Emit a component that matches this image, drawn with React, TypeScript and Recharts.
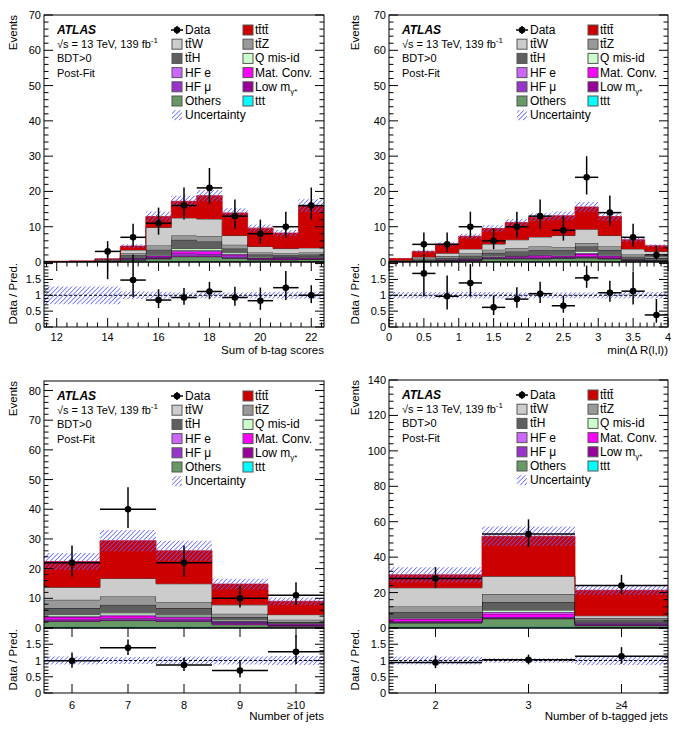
import React from "react";
import { Area, ComposedChart, ErrorBar, ReferenceLine, Scatter, XAxis, YAxis } from "recharts";

const FONT = "'Liberation Sans', Arial, Helvetica, sans-serif";
const HATCH = "#5f5fff";

// stack order, bottom to top
const STACK = ["ttt", "others", "lowm", "hfmu", "matconv", "hfe", "qmis", "ttH", "ttZ", "ttW", "tttt"];
const COLORS: Record<string, string> = {
  ttt: "#00ffff",
  others: "#669966",
  lowm: "#990099",
  hfmu: "#9933cc",
  matconv: "#ff00ff",
  hfe: "#cc66ff",
  qmis: "#ccffcc",
  ttH: "#5f5f5f",
  ttZ: "#999999",
  ttW: "#cccccc",
  tttt: "#cc0000",
};

// ---- Sum of b-tag scores ----
const btagEdges = [11.5, 12.5, 13.5, 14.5, 15.5, 16.5, 17.5, 18.5, 19.5, 20.5, 21.5, 22.5];
const btagTicks = [12, 14, 16, 18, 20, 22];
const btagData = [null, null, 3, 7, 11, 16, 21, 13, 8, 10, 16];
const btagErrLo = [0, 0, 1.63, 2.58, 3.27, 3.96, 4.55, 3.58, 2.77, 3.11, 3.96];
const btagErrHi = [0, 0, 2.92, 3.83, 4.42, 5.1, 5.65, 4.71, 4.0, 4.26, 5.1];
const btagRatio = [null, null, 3.3, 1.48, 0.85, 0.93, 1.12, 0.93, 0.83, 1.24, 1.0];
const btagTttt = [0.05, 0.1, 0.2, 1.1, 3.1, 4.7, 6.6, 6.4, 5.2, 4.4, 12.0];
const btagTtW = [0.05, 0.05, 0.2, 0.9, 5.1, 5.0, 4.8, 2.6, 1.7, 1.3, 1.3];
const btagTtZ = [0, 0.05, 0.1, 0.6, 1.2, 1.2, 1.6, 1.1, 0.6, 0.6, 0.6];
const btagTtH = [0.08, 0.07, 0.15, 0.55, 1.3, 2.5, 2.0, 1.05, 0.7, 0.3, 0.55];
const btagQmis = [0, 0, 0.05, 0.2, 0.3, 0.5, 0.5, 0.4, 0.2, 0.2, 0.2];
const btagHfe = [0, 0, 0, 0.1, 0.2, 0.3, 0.3, 0.2, 0.1, 0.1, 0.1];
const btagMatConv = [0, 0, 0.05, 0.2, 0.3, 0.6, 0.7, 0.3, 0.2, 0.2, 0.2];
const btagHfmu = [0, 0, 0.05, 0.2, 0.3, 0.6, 0.5, 0.6, 0.2, 0.2, 0.2];
const btagLowm = [0, 0, 0, 0.1, 0.2, 0.3, 0.3, 0.2, 0.1, 0.3, 0.1];
const btagOthers = [0.02, 0.03, 0.1, 0.5, 0.8, 1.3, 1.3, 0.9, 0.5, 0.5, 0.6];
const btagTtt = [0, 0, 0, 0.05, 0.1, 0.2, 0.2, 0.15, 0.1, 0.1, 0.15];
const btagUnc = [0.06, 0.08, 0.25, 0.5, 1.4, 1.6, 1.6, 1.3, 1.0, 0.9, 1.8];
const btagRatioUnc = [0.28, 0.28, 0.28, 0.12, 0.11, 0.09, 0.09, 0.09, 0.1, 0.11, 0.11];

// ---- min(dR(l,l)) ----
const drEdges = [0, 0.333, 0.667, 1, 1.333, 1.667, 2, 2.333, 2.667, 3, 3.333, 3.667, 4];
const drTicks = [0, 0.5, 1, 1.5, 2, 2.5, 3, 3.5, 4];
const drData = [null, 5, 5, 10, 6, 10, 13, 9, 24, 14, 7, 2];
const drErrLo = [0, 2.16, 2.16, 3.11, 2.38, 3.11, 3.58, 2.94, 4.87, 3.72, 2.58, 1.29];
const drErrHi = [0, 3.38, 3.38, 4.26, 3.62, 4.26, 4.71, 4.14, 5.97, 4.86, 3.83, 2.64];
const drRatio = [null, 1.69, 0.97, 1.39, 0.62, 0.88, 1.05, 0.67, 1.55, 1.08, 1.13, 0.38];
const drTttt = [0.5, 1.6, 2.6, 3.6, 4.4, 4.9, 5.6, 5.6, 6.3, 5.4, 2.6, 1.6];
const drTtW = [0.15, 0.4, 0.8, 1.2, 1.6, 2.3, 2.7, 3.3, 3.9, 3.1, 1.6, 1.4];
const drTtZ = [0.1, 0.3, 0.5, 0.7, 0.9, 1.0, 1.1, 0.9, 1.0, 1.0, 0.6, 0.5];
const drTtH = [0.12, 0.28, 0.52, 0.75, 0.9, 1.1, 1.1, 1.1, 1.35, 1.2, 0.65, 0.57];
const drQmis = [0.02, 0.05, 0.1, 0.15, 0.2, 0.2, 0.25, 0.3, 0.5, 0.3, 0.1, 0.05];
const drHfe = [0.02, 0.05, 0.05, 0.1, 0.15, 0.15, 0.2, 0.2, 0.3, 0.2, 0.05, 0.05];
const drMatConv = [0.02, 0.05, 0.1, 0.15, 0.2, 0.3, 0.5, 0.3, 0.6, 0.4, 0.1, 0.05];
const drHfmu = [0.02, 0.05, 0.1, 0.1, 0.15, 0.2, 0.2, 0.2, 0.3, 0.2, 0.1, 0.05];
const drLowm = [0, 0.05, 0.05, 0.1, 0.1, 0.15, 0.15, 0.15, 0.2, 0.2, 0.15, 0.1];
const drOthers = [0.05, 0.15, 0.25, 0.4, 0.8, 0.8, 0.8, 0.9, 1.0, 0.8, 0.3, 0.2];
const drTtt = [0, 0.02, 0.03, 0.05, 0.1, 0.1, 0.1, 0.15, 0.15, 0.1, 0.05, 0.03];
const drUnc = [0.1, 0.35, 0.5, 0.7, 0.9, 1.0, 1.1, 1.2, 1.4, 1.2, 0.6, 0.45];
const drRatioUnc = [0.1, 0.1, 0.1, 0.1, 0.1, 0.09, 0.09, 0.09, 0.09, 0.1, 0.1, 0.1];

// ---- Number of jets ----
const jetEdges = [5.5, 6.5, 7.5, 8.5, 9.5, 10.5];
const jetTicks = [6, 7, 8, 9, 10];
const jetLabels = ["6", "7", "8", "9", "\u226510"];
const jetData = [22, 40, 22, 10, 11];
const jetErrLo = [4.66, 6.3, 4.66, 3.11, 3.27];
const jetErrHi = [5.76, 7.38, 5.76, 4.26, 4.42];
const jetRatio = [0.99, 1.39, 0.86, 0.69, 1.27];
const jetTttt = [8.7, 12.7, 11.1, 7.0, 4.5];
const jetTtW = [4.2, 6.1, 6.1, 3.0, 1.7];
const jetTtZ = [2.8, 2.8, 2.1, 1.1, 0.8];
const jetTtH = [2.2, 2.7, 2.3, 1.0, 0.2];
const jetQmis = [0.5, 0.6, 0.5, 0.3, 0.2];
const jetHfe = [0.3, 0.4, 0.3, 0.2, 0.1];
const jetMatConv = [0.8, 0.8, 0.5, 0.2, 0.2];
const jetHfmu = [0.4, 0.5, 0.6, 0.4, 0.3];
const jetLowm = [0.3, 0.3, 0.3, 0.5, 0.4];
const jetOthers = [1.9, 2.2, 1.9, 0.9, 0.5];
const jetTtt = [0.3, 0.3, 0.3, 0.2, 0.1];
const jetUnc = [2.9, 3.6, 3.4, 1.8, 1.3];
const jetRatioUnc = [0.12, 0.11, 0.12, 0.12, 0.14];

// ---- Number of b-tagged jets ----
const bjetEdges = [1.5, 2.5, 3.5, 4.5];
const bjetTicks = [2, 3, 4];
const bjetLabels = ["2", "3", "\u22654"];
const bjetData = [28, 53, 24];
const bjetErrLo = [5.26, 7.26, 4.87];
const bjetErrHi = [6.35, 8.33, 5.97];
const bjetRatio = [0.94, 1.02, 1.13];
const bjetTttt = [7.3, 22.6, 14.4];
const bjetTtW = [10.5, 10.0, 1.3];
const bjetTtZ = [3.1, 4.5, 0.9];
const bjetTtH = [3.1, 4.6, 1.5];
const bjetQmis = [0.5, 1.1, 0.3];
const bjetHfe = [0.4, 1.0, 0.3];
const bjetMatConv = [1.3, 1.8, 0.4];
const bjetHfmu = [0.6, 0.6, 0.5];
const bjetLowm = [0.4, 0.4, 0.4];
const bjetOthers = [2.3, 4.5, 1.0];
const bjetTtt = [0.5, 0.7, 0.3];
const bjetUnc = [4.3, 5.5, 2.7];
const bjetRatioUnc = [0.12, 0.07, 0.14];

type PanelCfg = {
  id: string;
  x0: number;
  plotL: number;
  plotR: number;
  mainTop: number;
  mainBottom: number;
  ratioBottom: number;
  ratioMax: number;
  edges: number[];
  data: (number | null)[];
  errLo: number[];
  errHi: number[];
  ratio: (number | null)[];
  unc: number[];
  ratioUnc: number[];
  series: Record<string, number[]>;
  yMax: number;
  yMajor: number;
  yMinor: number;
  xMajor: number[];
  xMinor: number | null;
  xLabels: string[] | null;
  labelDy: number;
  xTitle: string;
};

const panels: PanelCfg[] = [
  {
    id: "btag", x0: 0, plotL: 44, plotR: 324, mainTop: 15, mainBottom: 262, ratioBottom: 327, ratioMax: 2.05,
    edges: btagEdges, data: btagData, errLo: btagErrLo, errHi: btagErrHi, ratio: btagRatio,
    unc: btagUnc, ratioUnc: btagRatioUnc,
    series: {
      tttt: btagTttt, ttW: btagTtW, ttZ: btagTtZ, ttH: btagTtH, qmis: btagQmis, hfe: btagHfe,
      matconv: btagMatConv, hfmu: btagHfmu, lowm: btagLowm, others: btagOthers, ttt: btagTtt,
    },
    yMax: 70, yMajor: 10, yMinor: 2, xMajor: btagTicks, xMinor: 0.4, xLabels: null, labelDy: 9.5,
    xTitle: "Sum of b-tag scores",
  },
  {
    id: "dr", x0: 342, plotL: 389, plotR: 668, mainTop: 15, mainBottom: 262, ratioBottom: 327, ratioMax: 2.05,
    edges: drEdges, data: drData, errLo: drErrLo, errHi: drErrHi, ratio: drRatio,
    unc: drUnc, ratioUnc: drRatioUnc,
    series: {
      tttt: drTttt, ttW: drTtW, ttZ: drTtZ, ttH: drTtH, qmis: drQmis, hfe: drHfe,
      matconv: drMatConv, hfmu: drHfmu, lowm: drLowm, others: drOthers, ttt: drTtt,
    },
    yMax: 70, yMajor: 10, yMinor: 2, xMajor: drTicks, xMinor: 0.1, xLabels: null, labelDy: 9.5,
    xTitle: "min(\u0394 R(l,l))",
  },
  {
    id: "jet", x0: 0, plotL: 44, plotR: 324, mainTop: 381, mainBottom: 628, ratioBottom: 693, ratioMax: 2.0,
    edges: jetEdges, data: jetData, errLo: jetErrLo, errHi: jetErrHi, ratio: jetRatio,
    unc: jetUnc, ratioUnc: jetRatioUnc,
    series: {
      tttt: jetTttt, ttW: jetTtW, ttZ: jetTtZ, ttH: jetTtH, qmis: jetQmis, hfe: jetHfe,
      matconv: jetMatConv, hfmu: jetHfmu, lowm: jetLowm, others: jetOthers, ttt: jetTtt,
    },
    yMax: 83.2, yMajor: 10, yMinor: 2, xMajor: jetTicks, xMinor: null, xLabels: jetLabels, labelDy: 12,
    xTitle: "Number of jets",
  },
  {
    id: "bjet", x0: 342, plotL: 389, plotR: 668, mainTop: 380, mainBottom: 628, ratioBottom: 693, ratioMax: 2.0,
    edges: bjetEdges, data: bjetData, errLo: bjetErrLo, errHi: bjetErrHi, ratio: bjetRatio,
    unc: bjetUnc, ratioUnc: bjetRatioUnc,
    series: {
      tttt: bjetTttt, ttW: bjetTtW, ttZ: bjetTtZ, ttH: bjetTtH, qmis: bjetQmis, hfe: bjetHfe,
      matconv: bjetMatConv, hfmu: bjetHfmu, lowm: bjetLowm, others: bjetOthers, ttt: bjetTtt,
    },
    yMax: 140, yMajor: 20, yMinor: 4, xMajor: bjetTicks, xMinor: null, xLabels: bjetLabels, labelDy: 12,
    xTitle: "Number of b-tagged jets",
  },
];

const near = (a: number, b: number) => Math.abs(a - b) < 1e-6;
const r4 = (v: number) => Math.round(v * 10000) / 10000;

function tickList(lo: number, hi: number, step: number, anchor: number) {
  const out: number[] = [];
  const start = anchor - Math.floor((anchor - lo) / step + 1e-9) * step;
  for (let v = start; v <= hi + 1e-9; v += step) out.push(r4(v));
  return out;
}

function HatchDef({ id }: { id: string }) {
  return (
    <defs>
      <pattern id={id} width="3.2" height="3.2" patternUnits="userSpaceOnUse" patternTransform="rotate(45)">
        <line x1="0" y1="0" x2="0" y2="3.2" stroke={HATCH} strokeWidth="1.5" />
      </pattern>
    </defs>
  );
}

function Panel({ p }: { p: PanelCfg }) {
  const nb = p.edges.length - 1;
  const lo = p.edges[0];
  const hi = p.edges[nb];
  const hw = (p.edges[1] - p.edges[0]) / 2;

  const rows = p.edges.map((x, i) => {
    const b = Math.min(i, nb - 1);
    const row: any = { x };
    let total = 0;
    STACK.forEach((k) => {
      row[k] = p.series[k][b];
      total += p.series[k][b];
    });
    row.unc = [total - p.unc[b], total + p.unc[b]];
    row.band = [1 - p.ratioUnc[b], 1 + p.ratioUnc[b]];
    return row;
  });

  const pts: any[] = [];
  const rpts: any[] = [];
  for (let i = 0; i < nb; i++) {
    const c = (p.edges[i] + p.edges[i + 1]) / 2;
    const d = p.data[i];
    if (d != null) pts.push({ x: c, y: d, ex: hw, ey: [p.errLo[i], p.errHi[i]] });
    const r = p.ratio[i];
    if (r != null && d) rpts.push({ x: c, y: r, ex: hw, ey: [(p.errLo[i] * r) / d, (p.errHi[i] * r) / d] });
  }

  const W = p.plotR - p.x0 + 12;
  const L = p.plotL - p.x0;
  const R = p.plotR - p.x0;
  const mainH = p.mainBottom - p.mainTop + 18;
  const mTop = 10;
  const mBot = mainH - 8;
  const ratioH = p.ratioBottom - p.mainBottom + 8 + 30;
  const rTop = 8;
  const rBot = ratioH - 30;

  const xTicks = p.xMinor ? tickList(lo, hi, p.xMinor, p.xMajor[0]) : p.xMajor;
  const isXMajor = (v: number) => p.xMajor.some((m) => near(m, v));
  const xLabel = (v: number) => {
    const idx = p.xMajor.findIndex((m) => near(m, v));
    if (idx < 0) return "";
    return p.xLabels ? p.xLabels[idx] : String(v);
  };
  const yTicks = tickList(0, p.yMax, p.yMinor, 0);
  const rTicks = tickList(0, p.ratioMax, 0.1, 0);

  const xTick = (top: number, bottom: number, labels: boolean, majLen: number) => (props: any) => {
    const x = props.x;
    const v = props.payload.value;
    const maj = isXMajor(v);
    const len = maj ? majLen : majLen / 2;
    return (
      <g>
        <line x1={x} x2={x} y1={bottom} y2={bottom - len} stroke="#000" strokeWidth={1} />
        <line x1={x} x2={x} y1={top} y2={top + len} stroke="#000" strokeWidth={1} />
        {labels && maj && (
          <text x={x} y={bottom + p.labelDy} textAnchor="middle" dominantBaseline="central" fontSize={11} fontFamily={FONT} fill="#000">
            {xLabel(v)}
          </text>
        )}
      </g>
    );
  };

  const yTick = (major: number, labelFn: (v: number) => string | null) => (props: any) => {
    const y = props.y;
    const v = props.payload.value;
    const maj = near(v / major, Math.round(v / major));
    const len = maj ? 9 : 4.5;
    const lab = maj ? labelFn(v) : null;
    return (
      <g>
        <line x1={L} x2={L + len} y1={y} y2={y} stroke="#000" strokeWidth={1} />
        <line x1={R} x2={R - len} y1={y} y2={y} stroke="#000" strokeWidth={1} />
        {lab != null && (
          <text x={L - 3} y={y} textAnchor="end" dominantBaseline="central" fontSize={11} fontFamily={FONT} fill="#000">
            {lab}
          </text>
        )}
      </g>
    );
  };

  const dot = (s: any) => <circle cx={s.cx} cy={s.cy} r={3.3} fill="#000" />;

  return (
    <>
      <div style={{ position: "absolute", left: p.x0, top: p.mainTop - mTop }}>
        <ComposedChart width={W} height={mainH} data={rows} margin={{ top: mTop, right: W - R, bottom: 8, left: 0 }}>
          <HatchDef id={`hatch-${p.id}`} />
          <XAxis
            dataKey="x"
            type="number"
            domain={[lo, hi]}
            ticks={xTicks}
            interval={0}
            allowDataOverflow
            height={0}
            axisLine={false}
            tickLine={false}
            tick={xTick(mTop, mBot, false, 8)}
          />
          <YAxis
            type="number"
            domain={[0, p.yMax]}
            ticks={yTicks}
            interval={0}
            allowDataOverflow
            width={L}
            axisLine={false}
            tickLine={false}
            tick={yTick(p.yMajor, (v) => String(v))}
          />
          {STACK.map((k) => (
            <Area
              key={k}
              dataKey={k}
              stackId="s"
              type="stepAfter"
              fill={COLORS[k]}
              fillOpacity={1}
              stroke={k === "tttt" ? COLORS[k] : "#111"}
              strokeWidth={0.8}
              dot={false}
              activeDot={false}
              isAnimationActive={false}
            />
          ))}
          <Area
            dataKey="unc"
            type="stepAfter"
            fill={`url(#hatch-${p.id})`}
            fillOpacity={1}
            stroke="none"
            dot={false}
            activeDot={false}
            isAnimationActive={false}
          />
          <Scatter data={pts} dataKey="y" fill="#000" shape={dot} isAnimationActive={false}>
            <ErrorBar dataKey="ey" direction="y" width={0} stroke="#000" strokeWidth={1.5} />
            <ErrorBar dataKey="ex" direction="x" width={0} stroke="#000" strokeWidth={1.5} />
          </Scatter>
        </ComposedChart>
      </div>
      <div style={{ position: "absolute", left: p.x0, top: p.mainBottom - rTop }}>
        <ComposedChart width={W} height={ratioH} data={rows} margin={{ top: rTop, right: W - R, bottom: 0, left: 0 }}>
          <HatchDef id={`rhatch-${p.id}`} />
          <XAxis
            dataKey="x"
            type="number"
            domain={[lo, hi]}
            ticks={xTicks}
            interval={0}
            allowDataOverflow
            height={30}
            axisLine={false}
            tickLine={false}
            tick={xTick(rTop, rBot, true, 9)}
          />
          <YAxis
            type="number"
            domain={[0, p.ratioMax]}
            ticks={rTicks}
            interval={0}
            allowDataOverflow
            width={L}
            axisLine={false}
            tickLine={false}
            tick={yTick(0.5, (v) => (v > 1.9 ? null : String(v)))}
          />
          <Area
            dataKey="band"
            type="stepAfter"
            fill={`url(#rhatch-${p.id})`}
            fillOpacity={1}
            stroke="none"
            dot={false}
            activeDot={false}
            isAnimationActive={false}
          />
          <ReferenceLine y={1} stroke="#000" strokeWidth={1} strokeDasharray="3 2" />
          <Scatter data={rpts} dataKey="y" fill="#000" shape={dot} isAnimationActive={false}>
            <ErrorBar dataKey="ey" direction="y" width={0} stroke="#000" strokeWidth={1.5} />
            <ErrorBar dataKey="ex" direction="x" width={0} stroke="#000" strokeWidth={1.5} />
          </Scatter>
        </ComposedChart>
      </div>
    </>
  );
}

const TBAR = "t\u0304";
const col1 = [
  { label: "Data", kind: "data" },
  { label: "t" + TBAR + "W", kind: "ttW" },
  { label: "t" + TBAR + "H", kind: "ttH" },
  { label: "HF e", kind: "hfe" },
  { label: "HF \u03bc", kind: "hfmu" },
  { label: "Others", kind: "others" },
  { label: "Uncertainty", kind: "hatch" },
];
const col2 = [
  { label: "t" + TBAR + "t" + TBAR, kind: "tttt" },
  { label: "t" + TBAR + "Z", kind: "ttZ" },
  { label: "Q mis-id", kind: "qmis" },
  { label: "Mat. Conv.", kind: "matconv" },
  { label: "Low m", kind: "lowm" },
  { label: "ttt", kind: "ttt" },
];

function LegendMark({ kind, cx, cy }: { kind: string; cx: number; cy: number }) {
  if (kind === "data") {
    return (
      <g>
        <line x1={cx - 6} x2={cx + 6} y1={cy} y2={cy} stroke="#000" strokeWidth={1.5} />
        <line x1={cx} x2={cx} y1={cy - 4} y2={cy + 4} stroke="#000" strokeWidth={1.5} />
        <circle cx={cx} cy={cy} r={3.3} fill="#000" />
      </g>
    );
  }
  const fill = kind === "hatch" ? "url(#hatch-legend)" : COLORS[kind];
  return (
    <rect x={cx - 5} y={cy - 5} width={10} height={10} fill={fill} stroke={kind === "hatch" ? "none" : "#555"} strokeWidth={1} />
  );
}

function Overlay() {
  const txt = { fontSize: 12, fontFamily: FONT, fill: "#000", dominantBaseline: "central" as const };
  return (
    <svg width={685} height={730} style={{ position: "absolute", left: 0, top: 0, pointerEvents: "none" }}>
      <defs>
        <pattern id="hatch-legend" width="3.2" height="3.2" patternUnits="userSpaceOnUse" patternTransform="rotate(45)">
          <line x1="0" y1="0" x2="0" y2="3.2" stroke={HATCH} strokeWidth="1.5" />
        </pattern>
      </defs>
      {panels.map((p) => {
        const row = (i: number) => p.mainTop + 15 + i * 14.2;
        const L = p.plotL;
        return (
          <g key={p.id}>
            <rect x={p.plotL} y={p.mainTop} width={p.plotR - p.plotL} height={p.mainBottom - p.mainTop} fill="none" stroke="#000" strokeWidth={1} />
            <rect x={p.plotL} y={p.mainBottom} width={p.plotR - p.plotL} height={p.ratioBottom - p.mainBottom} fill="none" stroke="#000" strokeWidth={1} />
            <text transform={`translate(${p.x0 + 16.5},${p.mainTop}) rotate(-90)`} textAnchor="end" fontSize={11.5} fontFamily={FONT} fill="#000">
              Events
            </text>
            <text transform={`translate(${p.x0 + 16.5},${p.mainBottom + 1}) rotate(-90)`} textAnchor="end" fontSize={11.5} fontFamily={FONT} fill="#000">
              Data / Pred.
            </text>
            <text x={p.plotR} y={p.ratioBottom + 23} textAnchor="end" {...txt} fontSize={11.5}>
              {p.xTitle}
            </text>
            <text x={L + 13} y={row(0)} {...txt} fontWeight="bold" fontStyle="italic">
              ATLAS
            </text>
            <text x={L + 13} y={row(1)} {...txt} fontSize={11}>
              {"\u221as = 13 TeV, 139 fb"}
              <tspan fontSize={8} dy={-4}>-1</tspan>
            </text>
            <text x={L + 13} y={row(2)} {...txt} fontSize={11}>
              BDT&gt;0
            </text>
            <text x={L + 13} y={row(3)} {...txt} fontSize={11}>
              Post-Fit
            </text>
            {col1.map((e, i) => (
              <g key={e.label}>
                <LegendMark kind={e.kind} cx={L + 133} cy={row(i)} />
                <text x={L + 141} y={row(i)} {...txt}>
                  {e.label}
                </text>
              </g>
            ))}
            {col2.map((e, i) => (
              <g key={e.label}>
                <LegendMark kind={e.kind} cx={L + 204} cy={row(i)} />
                <text x={L + 211} y={row(i)} {...txt}>
                  {e.label}
                  {e.kind === "lowm" && (
                    <tspan fontSize={8} dy={4}>
                      {"\u03b3*"}
                    </tspan>
                  )}
                </text>
              </g>
            ))}
          </g>
        );
      })}
    </svg>
  );
}

export default function App() {
  return (
    <div style={{ position: "absolute", left: 0, top: 0, width: 685, height: 730, background: "#fff", fontFamily: FONT }}>
      {panels.map((p) => (
        <Panel key={p.id} p={p} />
      ))}
      <Overlay />
    </div>
  );
}
